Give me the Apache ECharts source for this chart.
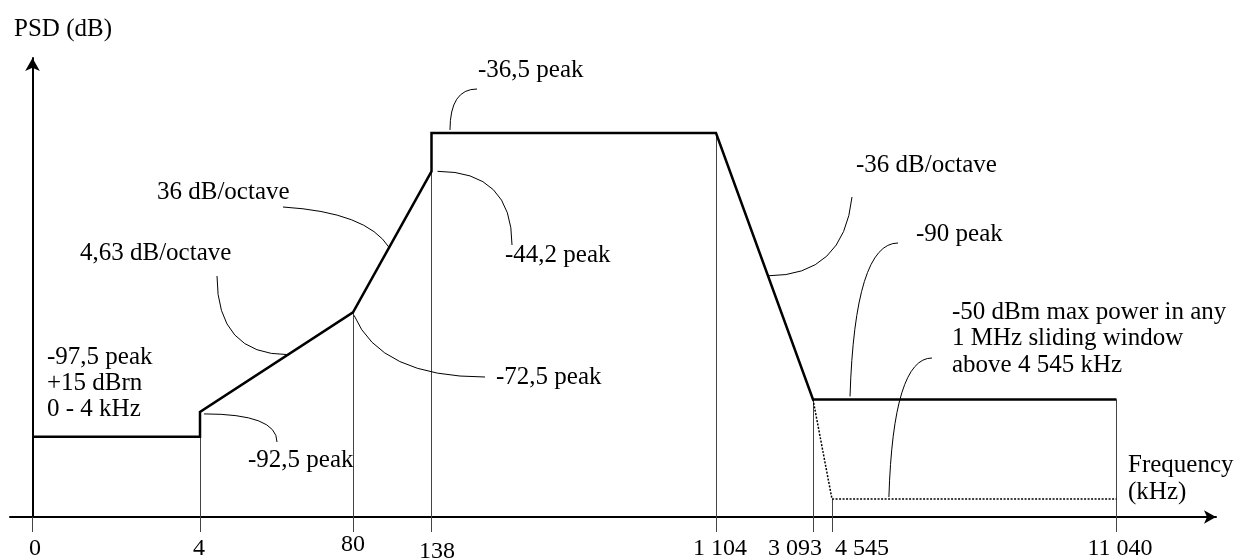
<!DOCTYPE html>
<html>
<head>
<meta charset="utf-8">
<script src="https://cdn.jsdelivr.net/npm/echarts@6/dist/echarts.min.js"></script>
<style>
  html, body { margin: 0; padding: 0; background: #fff; }
  #chart { width: 1235px; height: 558px; }
</style>
</head>
<body>
<div id="chart"></div>
<script>
// ---- data -------------------------------------------------------------
// Band edges on the frequency axis (kHz) and the way they are printed
const edgeKHz = [0, 4, 80, 138, 1104, 3093, 4545, 11040];
const edgeLabels = ['0', '4', '80', '138', '1 104', '3 093', '4 545', '11 040'];

// PSD mask breakpoints (kHz, dBm/Hz)
const maskKHz = [0, 4, 4, 80, 138, 138, 1104, 3093, 11040];
const maskDb = [-97.5, -97.5, -92.5, -72.5, -44.2, -36.5, -36.5, -90, -90];

// -50 dBm in any 1 MHz window above 4 545 kHz, i.e. -110 dBm/Hz on average
const windowKHz = [3093, 4545, 11040];
const windowDb = [-90, -110, -110];

// ---- layout -----------------------------------------------------------
// The frequency axis is not to scale: every band edge has its own slot
const edgeSlot = [0, 167.5, 320.5, 399, 683.5, 780.5, 799.5, 1084];
const xSlot = khz => edgeSlot[edgeKHz.indexOf(khz)];

// Nudges for the printed edge labels [dx, dy]
const labelNudge = [[2.5, 0], [-1, 0], [0, -4], [5.5, 3], [4, 0], [-18, 0], [30, 0], [3.5, 0]];

const SERIF = '"Liberation Serif", "Times New Roman", serif';
const FONT = '25px ' + SERIF;
const Y_MIN = -113.6, Y_MAX = -21.45;

const maskPts = maskKHz.map((f, i) => [xSlot(f), maskDb[i]]);
const windowPts = windowKHz.map((f, i) => [xSlot(f), windowDb[i]]);

// Thin guides rising from each band edge up to the mask
const guides = edgeKHz.slice(1).map(f => {
  const tops = [];
  maskKHz.forEach((k, i) => { if (k === f) tops.push(maskDb[i]); });
  windowKHz.forEach((k, i) => { if (k === f) tops.push(windowDb[i]); });
  return { coords: [[xSlot(f), Y_MIN], [xSlot(f), Math.max.apply(null, tops)]] };
});

// Leader curves: where they leave the trace (segment + fraction),
// where they end next to their text, and how the bend is shaped
const callouts = [
  { pts: maskPts, seg: 5, t: 0.065, nudge: [0, -3], end: [477, 89], bend: [0, 1] },
  { pts: maskPts, seg: 4, t: 0, nudge: [6, 0], end: [512, 245], bend: [1, 0] },
  { pts: maskPts, seg: 3, t: 0.46, nudge: [0, 0], end: [283, 207], bend: [0.21, 0.87] },
  { pts: maskPts, seg: 2, t: 0.575, nudge: [0, 0], end: [217, 276], bend: [1, 0] },
  { pts: maskPts, seg: 3, t: 0, nudge: [1, 3], end: [485, 377], bend: [0.2, 1] },
  { pts: maskPts, seg: 2, t: 0, nudge: [4, 2], end: [277, 442], bend: [1, 0] },
  { pts: maskPts, seg: 6, t: 0.536, nudge: [0, 0], end: [852, 197], bend: [0.9, 0] },
  { pts: maskPts, seg: 7, t: 0.122, nudge: [0, -3], end: [898, 243], bend: [0.1, 1] },
  { pts: windowPts, seg: 1, t: 0.2, nudge: [0, -2], end: [932, 358], bend: [0.1, 1] }
];
const calloutData = callouts.map(c => {
  const a = c.pts[c.seg], b = c.pts[c.seg + 1];
  return [a[0] + (b[0] - a[0]) * c.t, a[1] + (b[1] - a[1]) * c.t];
});

// Annotation texts: [text, left, centre of first line, line height]
const notes = [
  ['-36,5 peak', 478, 70, 26],
  ['-44,2 peak', 505, 255, 26],
  ['36 dB/octave', 157, 192, 26],
  ['4,63 dB/octave', 80, 253, 26],
  ['-72,5 peak', 496, 377, 26],
  ['-92,5 peak', 248, 460, 26],
  ['-36 dB/octave', 856, 165, 26],
  ['-90 peak', 916, 234, 26],
  ['-50 dBm max power in any\n1 MHz sliding window\nabove 4 545 kHz', 952, 312, 26.5],
  ['-97,5 peak\n+15 dBrn\n0 - 4 kHz', 47, 357, 26],
  ['Frequency\n(kHz)', 1128, 465, 27]
];

const rich = {};
labelNudge.forEach((n, i) => {
  const dx = n[0], dy = n[1];
  rich['t' + i] = {
    fontFamily: SERIF, fontSize: 24, color: '#000',
    padding: [4 + dy, dx < 0 ? -2 * dx : 0, 0, dx > 0 ? 2 * dx : 0]
  };
});

const chart = echarts.init(document.getElementById('chart'), null, { renderer: 'canvas' });

chart.setOption({
  animation: false,
  backgroundColor: '#fff',
  grid: { left: 10, right: 19, top: 58, bottom: 41, containLabel: false, outerBoundsMode: 'none' },
  xAxis: {
    type: 'value', min: -22.5, max: 1183.5,
    axisLine: {
      show: true, onZero: false,
      symbol: ['none', 'arrow'], symbolSize: [10, 12],
      lineStyle: { color: '#000', width: 2 }
    },
    axisTick: { show: true, customValues: edgeSlot, length: 15, lineStyle: { color: '#444', width: 1 } },
    axisLabel: {
      show: true, customValues: edgeSlot, margin: 16,
      fontFamily: SERIF, fontSize: 24, color: '#000',
      formatter: v => {
        const i = edgeSlot.indexOf(v);
        return i < 0 ? '' : '{t' + i + '|' + edgeLabels[i] + '}';
      },
      rich: rich
    },
    splitLine: { show: false }
  },
  yAxis: {
    type: 'value', min: Y_MIN, max: Y_MAX,
    name: 'PSD (dB)', nameLocation: 'end', nameGap: 16,
    nameTextStyle: { fontFamily: SERIF, fontSize: 25, color: '#000', align: 'center', padding: [0, 0, 0, 61] },
    axisLine: {
      show: true, onZero: true,
      symbol: ['none', 'arrow'], symbolSize: [11, 13],
      lineStyle: { color: '#000', width: 2 }
    },
    axisTick: { show: false },
    axisLabel: { show: false },
    splitLine: { show: false }
  },
  graphic: notes.map(n => ({
    type: 'text', x: n[1], y: n[2] - n[3] / 2, z: 10,
    style: { text: n[0], font: FONT, fill: '#000', verticalAlign: 'top', lineHeight: n[3] }
  })),
  series: [
    {
      type: 'lines', coordinateSystem: 'cartesian2d', z: 1, silent: true,
      data: guides,
      lineStyle: { color: '#444', width: 1, opacity: 1, curveness: 0 }
    },
    {
      name: 'PSD mask', type: 'line', z: 3, silent: true,
      data: maskPts, showSymbol: false,
      lineStyle: { color: '#000', width: 2.5, join: 'miter' }
    },
    {
      name: '1 MHz window', type: 'line', z: 3, silent: true,
      data: windowPts, showSymbol: false,
      lineStyle: { color: '#000', width: 1.5, type: [2, 1.5] }
    },
    {
      name: 'leaders', type: 'custom', z: 4, silent: true, clip: false,
      data: calloutData,
      renderItem: (params, api) => {
        const c = callouts[params.dataIndex];
        const p = api.coord([api.value(0), api.value(1)]);
        const ax = p[0] + c.nudge[0], ay = p[1] + c.nudge[1];
        const ex = c.end[0], ey = c.end[1];
        return {
          type: 'bezierCurve',
          shape: {
            x1: ax, y1: ay, x2: ex, y2: ey,
            cpx1: ax + c.bend[0] * (ex - ax), cpy1: ay + c.bend[1] * (ey - ay)
          },
          style: { stroke: '#000', fill: null, lineWidth: 1 }
        };
      }
    }
  ]
});
</script>
</body>
</html>
